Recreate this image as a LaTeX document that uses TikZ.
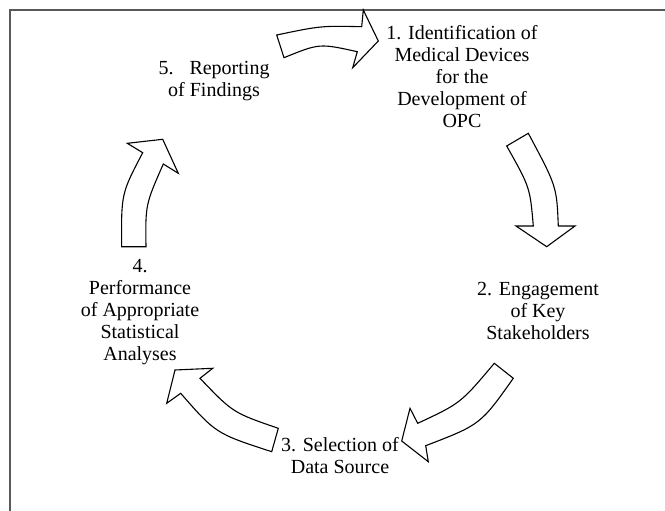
\documentclass[tikz,border=0pt]{standalone}
\usepackage{fontspec}
\setmainfont{Liberation Serif}

\tikzset{
  stage/.style={align=center, inner sep=0pt, font=\fontsize{20}{22}\selectfont},
  blockarrow/.style={draw=black, fill=white, line width=1.1pt, line join=miter},
}

\begin{document}
\begin{tikzpicture}[x=1pt, y=-1pt]
            \useasboundingbox (0, 0) rectangle (665, 511);
            % frame
            \draw[black!65, line width=1.5pt] (10, 511) -- (10, 10) -- (665, 10);
            % stages
            \node[stage] (identify) at (462, 77) {1. Identification of\\Medical Devices\\for the\\Development of\\OPC};
            \node[stage] (engage) at (538, 311) {2. Engagement\\of Key\\Stakeholders};
            \node[stage] (source) at (340, 456) {3. Selection of\\Data Source};
            \node[stage] (analyse) at (140, 312) {4.\\Performance\\of Appropriate\\Statistical\\Analyses};
            \node[stage] (report) at (214, 81) {5.\hspace{16pt}Reporting\\of Findings};
            % arrows
            \draw[blockarrow] (276.7, 35) .. controls (320.8, 25.8) .. (361.7, 26.7) -- (363.3, 10) -- (378.3, 41)
                -- (352.7, 67.7) -- (357.3, 51.7) .. controls (319.4, 43.3) .. (284, 57.7) -- cycle;
            \draw[blockarrow] (506.7, 146) -- (528.3, 133.3) .. controls (556.7, 186.4) .. (558.3, 226) -- (575, 226)
                -- (546.7, 246.7) -- (516, 226) -- (533.3, 226) .. controls (530, 187.4) .. (506.7, 146) -- cycle;
            \draw[blockarrow] (494.3, 363.3) -- (513.3, 378.3) .. controls (480.5, 424.6) .. (425.7, 445.7) -- (428.3, 461.7)
                -- (401.7, 441) -- (410, 408.3) -- (417.7, 423.3) .. controls (460.6, 403.3) .. (494.3, 363.3) -- cycle;
            \draw[blockarrow] (278.3, 428.3) .. controls (232.9, 412.7) .. (200, 378.3) -- (212.7, 368.3) -- (175, 370)
                -- (166.7, 403.3) -- (180.7, 393.3) .. controls (215.8, 433.5) .. (271.7, 451.7) -- cycle;
            \draw[blockarrow] (121.7, 246.7) .. controls (121.2, 193.7) .. (142.7, 152.7) -- (127.3, 143.3) -- (162.7, 139.3)
                -- (178.3, 173.3) -- (163.3, 164) .. controls (145.4, 204.7) .. (146, 246.7) -- cycle;
        \end{tikzpicture}
\end{document}
